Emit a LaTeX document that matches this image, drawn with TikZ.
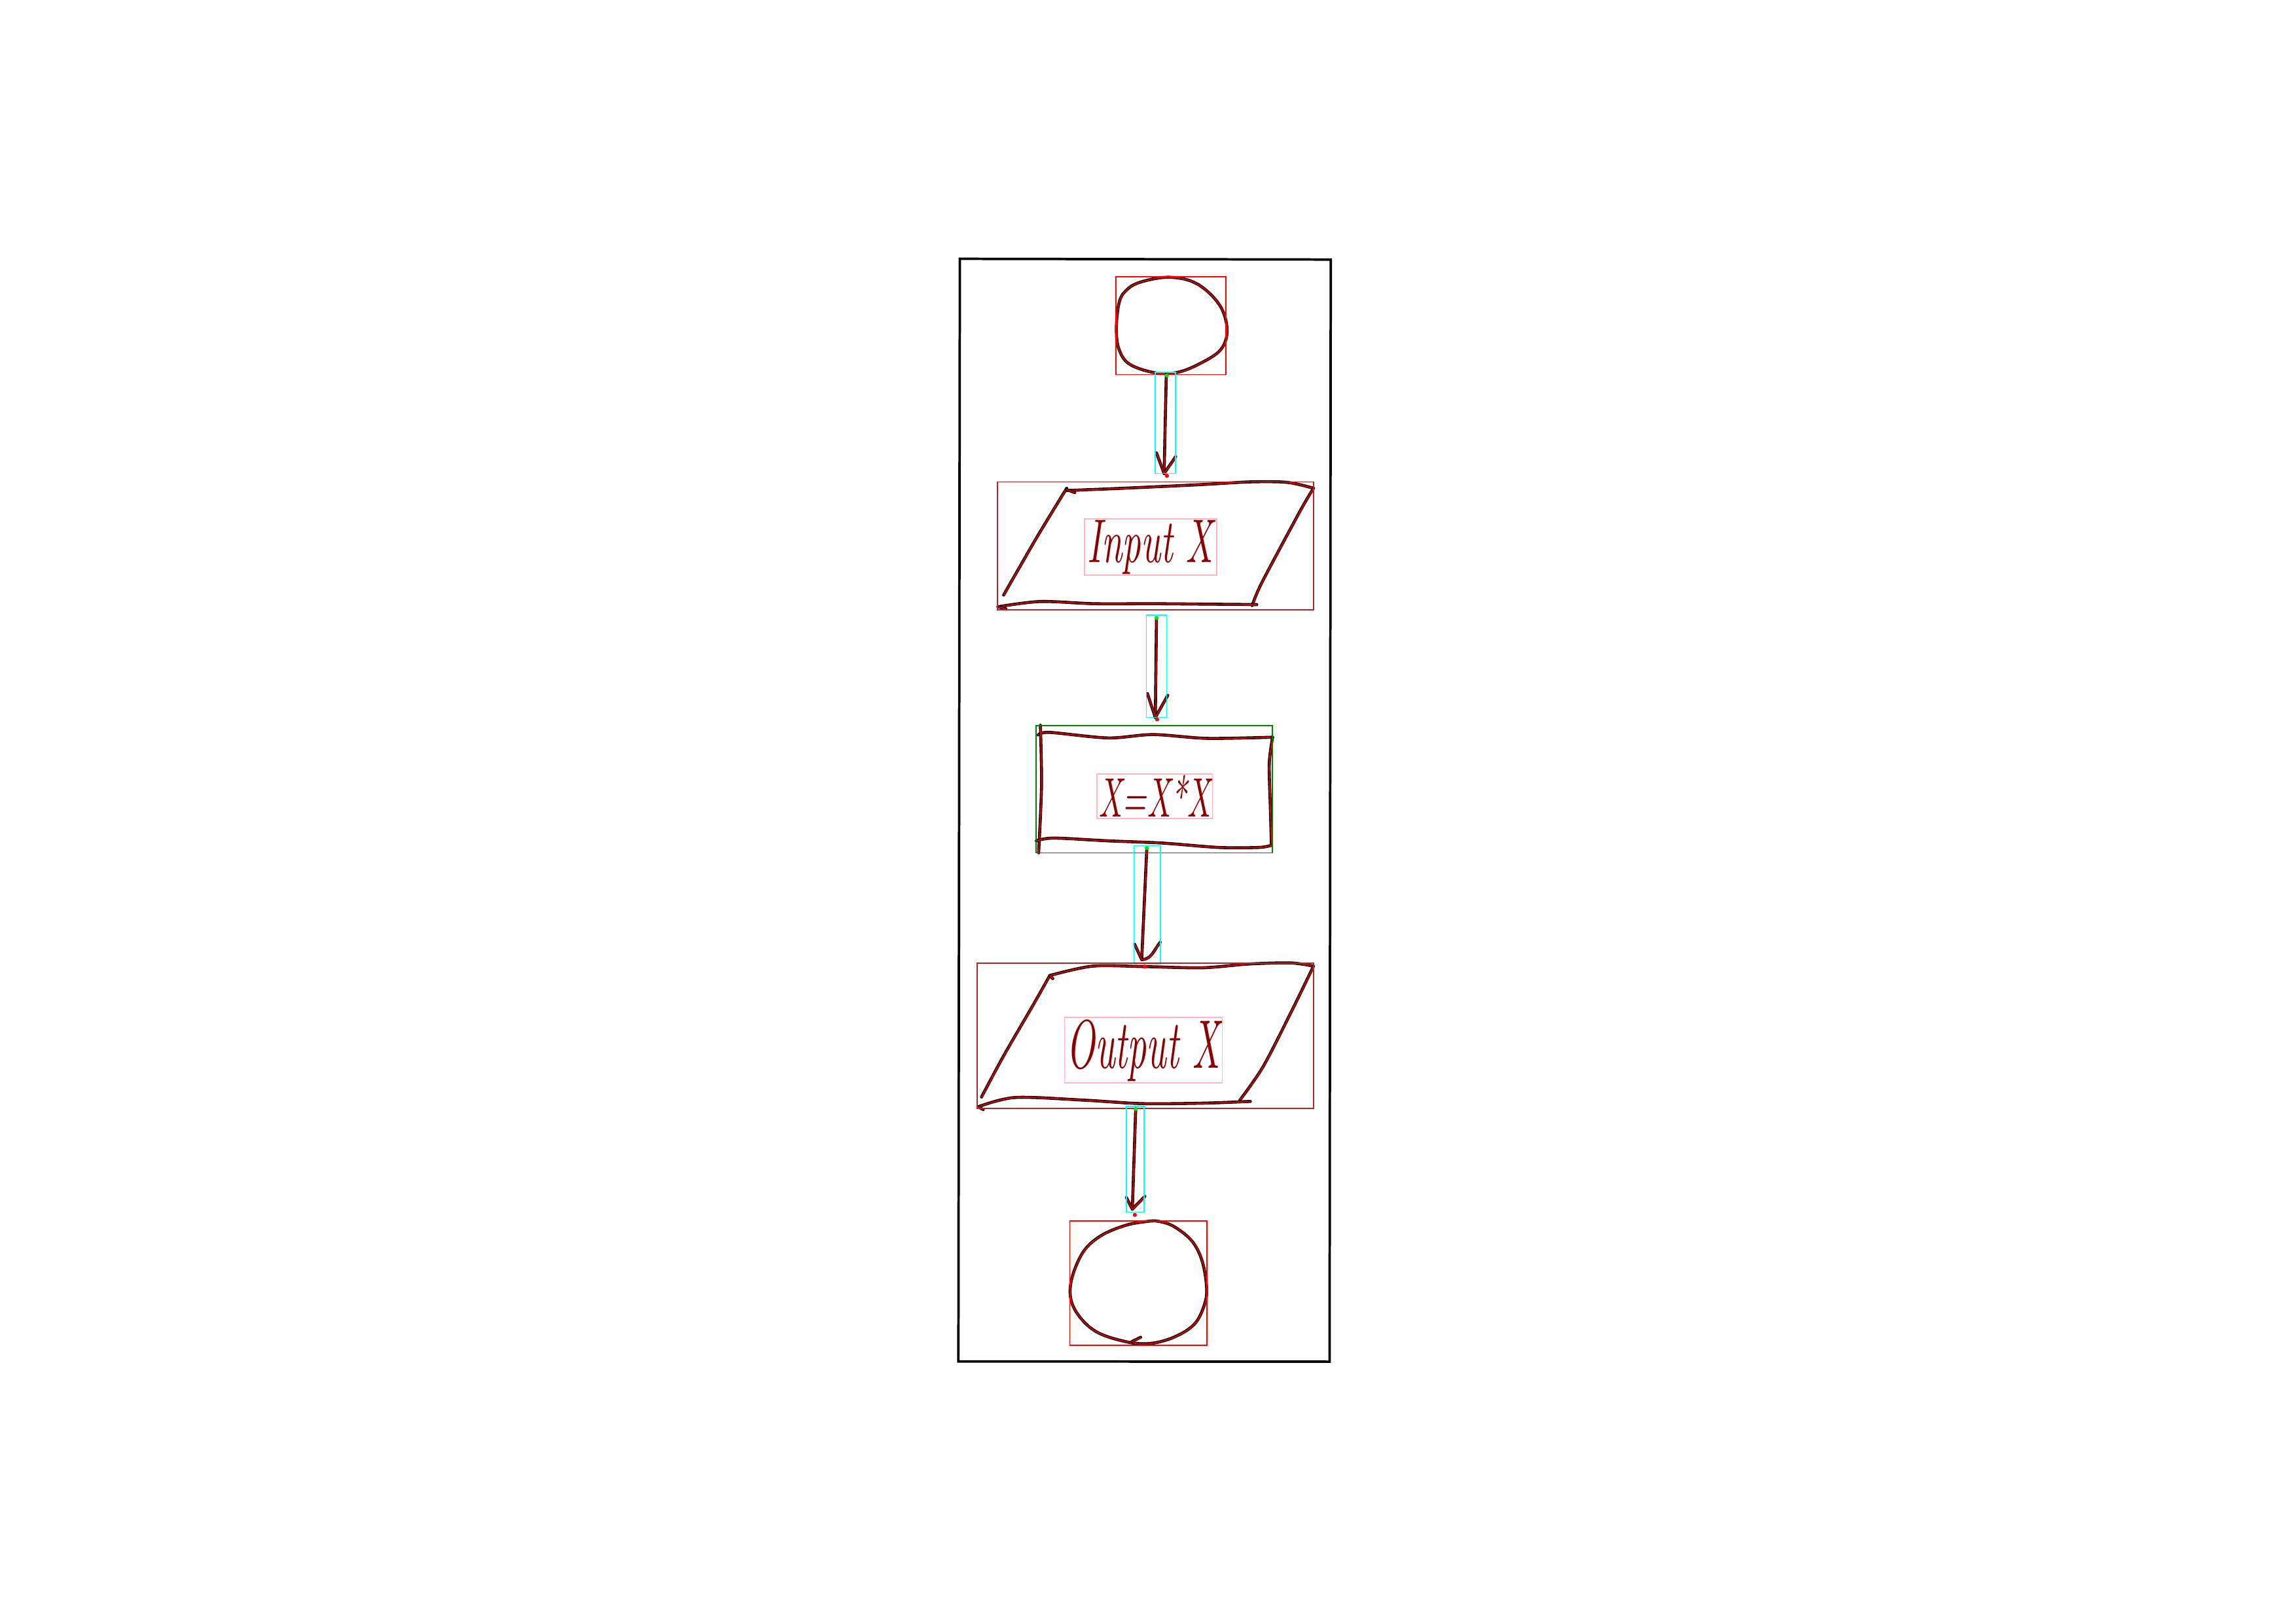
\documentclass[tikz,border=0pt]{standalone}
\usepackage{graphicx}
\definecolor{inkred}{RGB}{225,0,0}
\definecolor{boxred}{RGB}{255,0,0}
\definecolor{boxbrown}{RGB}{170,40,40}
\definecolor{boxgreen}{RGB}{0,128,0}
\definecolor{boxcyan}{RGB}{0,255,255}
\definecolor{boxpink}{RGB}{255,182,193}
\definecolor{dotgreen}{RGB}{0,230,0}
\definecolor{txtred}{RGB}{140,0,0}
\tikzset{
  ink/.style={draw=black, line width=1.1pt, line cap=round, line join=round,
    postaction={draw=inkred, line width=0.45pt}},
  annot/.style={line width=0.45pt},
  txt/.style={inner sep=0pt, text=txtred, font=\itshape},
  startdot/.style={fill=dotgreen},
  enddot/.style={fill=red},
}
\begin{document}
\begin{tikzpicture}[x=0.018941cm,y=-0.018941cm]
\fill[white] (0,0) rectangle (1568,1109);
\useasboundingbox (0,0) rectangle (1568,1109);

% outer frame
\draw[line width=0.9pt, line join=miter] (655.5,176.8) -- (908.8,177.3) -- (908,930.2) -- (654.5,930) -- cycle;

% ---- start circle
\draw[ink] plot[smooth cycle, tension=0.6] coordinates {(788,254.5) (771,248.5) (764,238) (762.4,224.4) (764,208) (768,199.5) (778,193) (798.6,189.4) (817.5,193.9) (832.9,208.4) (838,225.2) (833.7,238.8) (819.2,248.5) (803.8,254.4)};

% ---- input parallelogram
\draw[ink] plot[smooth, tension=0.5] coordinates {(728.5,335.1) (767.9,333.5) (819.2,331.1) (853.4,329.2) (879,329.5) (897,333.5)};
\draw[ink] plot[smooth, tension=0.5] coordinates {(897,333.5) (887.6,349.6) (861.9,397.7) (855.1,413.7)};
\draw[ink] plot[smooth, tension=0.5] coordinates {(728.5,333.5) (708,367.2) (685.4,406.5)};
\draw[ink] plot[smooth, tension=0.5] coordinates {(681.5,414.5) (710.5,410.9) (747.4,412.4) (787.5,412.4) (824.4,412.7) (858.3,413.0)};
\draw[ink] (728.5,334.5) -- (734,336.5);
\draw[ink] (681.5,414.5) -- (687,416);

% ---- process rectangle
\draw[ink] plot[smooth, tension=0.5] coordinates {(709,502.1) (716.7,500.3) (756.7,504.1) (787.5,501.8) (824.4,504.4) (869.1,503.6)};
\draw[ink] plot[smooth, tension=0.5] coordinates {(710.5,495.4) (711.3,536.4) (709.3,582.6)};
\draw[ink] plot[smooth, tension=0.5] coordinates {(869.1,503.6) (866.8,521.5) (867.5,550) (868.3,577.4)};
\draw[ink] plot[smooth, tension=0.5] coordinates {(707.7,574.4) (719.7,572.5) (756.7,574.4) (793.6,575.9) (832.1,578.9) (859.8,578.9) (868.3,577.4)};

% ---- output parallelogram
\draw[ink] plot[smooth, tension=0.5] coordinates {(716.9,666.4) (746.1,660.0) (781.6,660.3) (821.2,661.1) (853.1,658.5) (881.8,657.8) (897,660)};
\draw[ink] plot[smooth, tension=0.5] coordinates {(897,660) (881.8,691.3) (862.7,728.5) (846.7,751.6)};
\draw[ink] plot[smooth, tension=0.5] coordinates {(716.9,666.4) (706.2,685.4) (685.5,721.1) (670.3,749.4)};
\draw[ink] plot[smooth, tension=0.5] coordinates {(667.9,756.1) (693.5,749.7) (741.4,751.6) (779.7,753.9) (821.2,753.6) (853.9,752.4)};
\draw[ink] (716.9,666.4) -- (719,668.5);
\draw[ink] (667.9,756.1) -- (671.5,758);

% ---- end circle
\draw[ink] plot[smooth cycle, tension=0.6] coordinates {(783.2,834.4) (767.9,837.3) (750.8,844.8) (738.8,856.7) (731.1,877.6) (733.7,894.0) (747.3,908.9) (767.9,916.3) (785,917.8) (802.1,913.3) (815.8,904.4) (822.6,891.0) (824.0,879.1) (820.9,861.2) (814.0,847.8) (802.1,838.1) (791.8,834.4)};
\draw[ink] (773,916.5) -- (779,913.5);

% ---- texts
\node[txt] (tin) at (785.6,374) {\resizebox*{1.62cm}{0.70cm}{Input X}};
\node[txt] (tproc) at (788.5,544) {\resizebox*{1.45cm}{0.54cm}{X=X*X}};
\node[txt] (tout) at (780.8,717.5) {\resizebox*{1.98cm}{0.80cm}{Output X}};

% ---- connectors
\coordinate (a1s) at (796.5,255.5);
\coordinate (a1e) at (795,323.5);
\coordinate (a2s) at (789.8,422);
\coordinate (a2e) at (789,490.2);
\coordinate (a3s) at (783.2,579.3);
\coordinate (a3e) at (779.7,655.5);
\coordinate (a4s) at (775.6,757.6);
\coordinate (a4e) at (773.3,826);

\draw[ink] (a1s) -- (a1e);
\draw[ink] (a1e) ++(-5.2,-14.1) -- (a1e) -- ++(7.9,-11.6);
\draw[ink] (a2s) -- (a2e);
\draw[ink] (a2e) ++(-5.4,-16.4) -- (a2e) -- ++(8.5,-15.2);
\draw[ink] (a3s) -- (a3e);
\draw[ink] (a3e) ++(-4.8,-10.4) -- (a3e) to[out=0,in=-130] ++(12.7,-11.9);
\draw[ink] (a4s) -- (a4e);
\draw[ink] (a4e) ++(-4.1,-8) -- (a4e) -- ++(8.6,-8.8);

% ---- annotation boxes
\draw[annot, boxred] (761.9,189) rectangle (837.3,255.9);
\draw[annot, boxcyan] (789.1,254.4) rectangle (802.6,323.4);
\draw[annot, boxbrown] (681.3,329.2) rectangle (897,416.5);
\draw[annot, boxpink] (740.5,354.4) rectangle (830.8,392.9);
\draw[annot, boxcyan] (782.9,420.3) rectangle (796.7,490.1);
\draw[annot, boxgreen] (707.7,495.6) rectangle (869.1,582.6);
\draw[annot, boxpink] (749,528.7) rectangle (828,559.2);
\draw[annot, boxcyan] (774.4,577.7) rectangle (792.3,658.5);
\draw[annot, boxbrown] (667.4,657.8) rectangle (897,757.3);
\draw[annot, boxpink] (727,695.2) rectangle (834.7,739.9);
\draw[annot, boxcyan] (769.1,756) rectangle (781.5,828);
\draw[annot, boxred] (730.6,834.2) rectangle (824.1,919.1);

% ---- dots
\fill[startdot] (796.9,256.5) circle[radius=1.4];
\fill[enddot] (796.9,325) circle[radius=1.4];
\fill[startdot] (789.8,422.1) circle[radius=1.4];
\fill[enddot] (790.2,491.4) circle[radius=1.4];
\fill[startdot] (783.2,579.3) circle[radius=1.4];
\fill[enddot] (781.6,660.3) circle[radius=1.4];
\fill[startdot] (775.6,757.6) circle[radius=1.4];
\fill[enddot] (775,829.9) circle[radius=1.4];
\end{tikzpicture}
\end{document}
